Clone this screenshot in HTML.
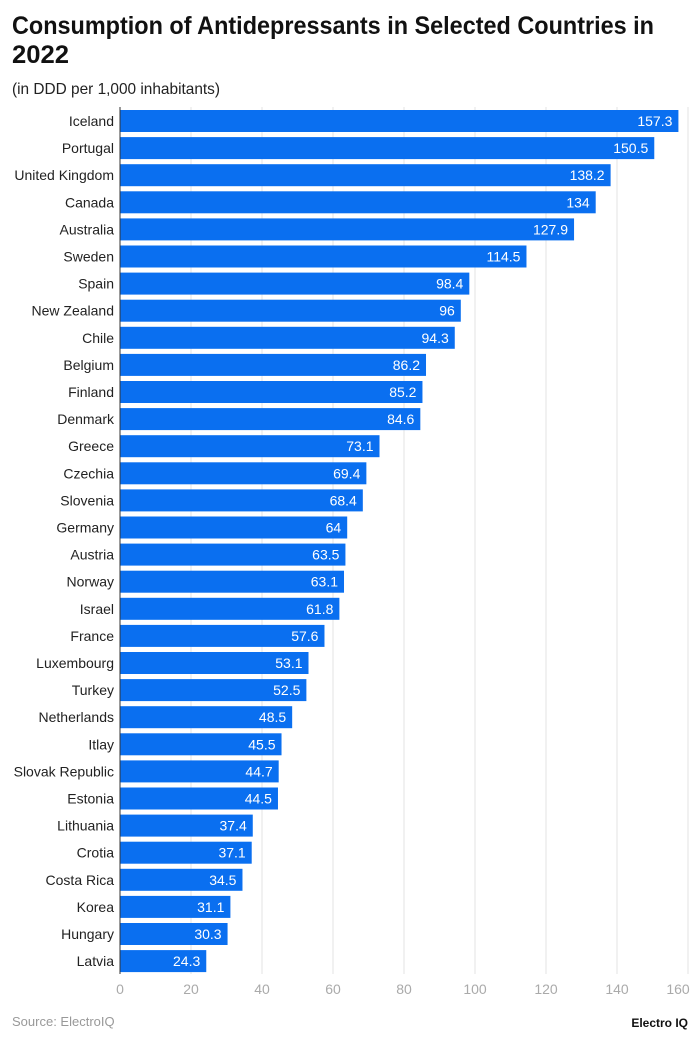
<!DOCTYPE html>
<html><head><meta charset="utf-8"><style>
html,body{margin:0;padding:0;background:#fff}
svg{display:block;font-family:"Liberation Sans",sans-serif}
</style></head><body>
<svg width="700" height="1041" viewBox="0 0 700 1041" xmlns="http://www.w3.org/2000/svg">
<text x="12" y="34" font-size="25" font-weight="bold" fill="#111" textLength="642" lengthAdjust="spacingAndGlyphs">Consumption of Antidepressants in Selected Countries in</text>
<text x="12" y="63" font-size="25" font-weight="bold" fill="#111" textLength="57" lengthAdjust="spacingAndGlyphs">2022</text>
<text x="12" y="94" font-size="16" fill="#222" textLength="208" lengthAdjust="spacingAndGlyphs">(in DDD per 1,000 inhabitants)</text>
<g id="grid" stroke="#e3e3e3" stroke-width="1"></g>
<g id="bars"></g>
<g id="ax" font-size="14" fill="#aaa" text-anchor="middle"></g>
<text x="12" y="1026" font-size="13" fill="#999">Source: ElectroIQ</text>
<text x="688" y="1027" font-size="12" font-weight="bold" fill="#111" text-anchor="end">Electro IQ</text>
<script>
var d=[["Iceland",157.3],["Portugal",150.5],["United Kingdom",138.2],["Canada",134],["Australia",127.9],["Sweden",114.5],["Spain",98.4],["New Zealand",96],["Chile",94.3],["Belgium",86.2],["Finland",85.2],["Denmark",84.6],["Greece",73.1],["Czechia",69.4],["Slovenia",68.4],["Germany",64],["Austria",63.5],["Norway",63.1],["Israel",61.8],["France",57.6],["Luxembourg",53.1],["Turkey",52.5],["Netherlands",48.5],["Itlay",45.5],["Slovak Republic",44.7],["Estonia",44.5],["Lithuania",37.4],["Crotia",37.1],["Costa Rica",34.5],["Korea",31.1],["Hungary",30.3],["Latvia",24.3]];
var NS="http://www.w3.org/2000/svg",x0=120,k=3.55;
function el(t,a,p,tx){var e=document.createElementNS(NS,t);for(var i in a)e.setAttribute(i,a[i]);if(tx!=null)e.textContent=tx;p.appendChild(e);return e;}
var g=document.getElementById("grid"),b=document.getElementById("bars"),ax=document.getElementById("ax");
for(var v=20;v<=160;v+=20){var x=x0+v*k;el("line",{x1:x,x2:x,y1:107,y2:974},g);el("text",{x:v==160?x-10:x,y:994},ax,String(v));}
el("text",{x:x0,y:994},ax,"0");
d.forEach(function(r,i){var cy=121+i*27.1,w=r[1]*k;
el("rect",{x:x0,y:cy-11,width:w,height:22,fill:"#0a6ff0"},b);
el("text",{x:114,y:cy+5,"font-size":"14","text-anchor":"end",fill:"#222"},b,r[0]);
el("text",{x:x0+w-6,y:cy+5,"font-size":"14","text-anchor":"end",fill:"#fff"},b,String(r[1]));});
el("line",{x1:x0,x2:x0,y1:107,y2:974,stroke:"#333","stroke-width":1},b);
</script>
</svg>
</body></html>
